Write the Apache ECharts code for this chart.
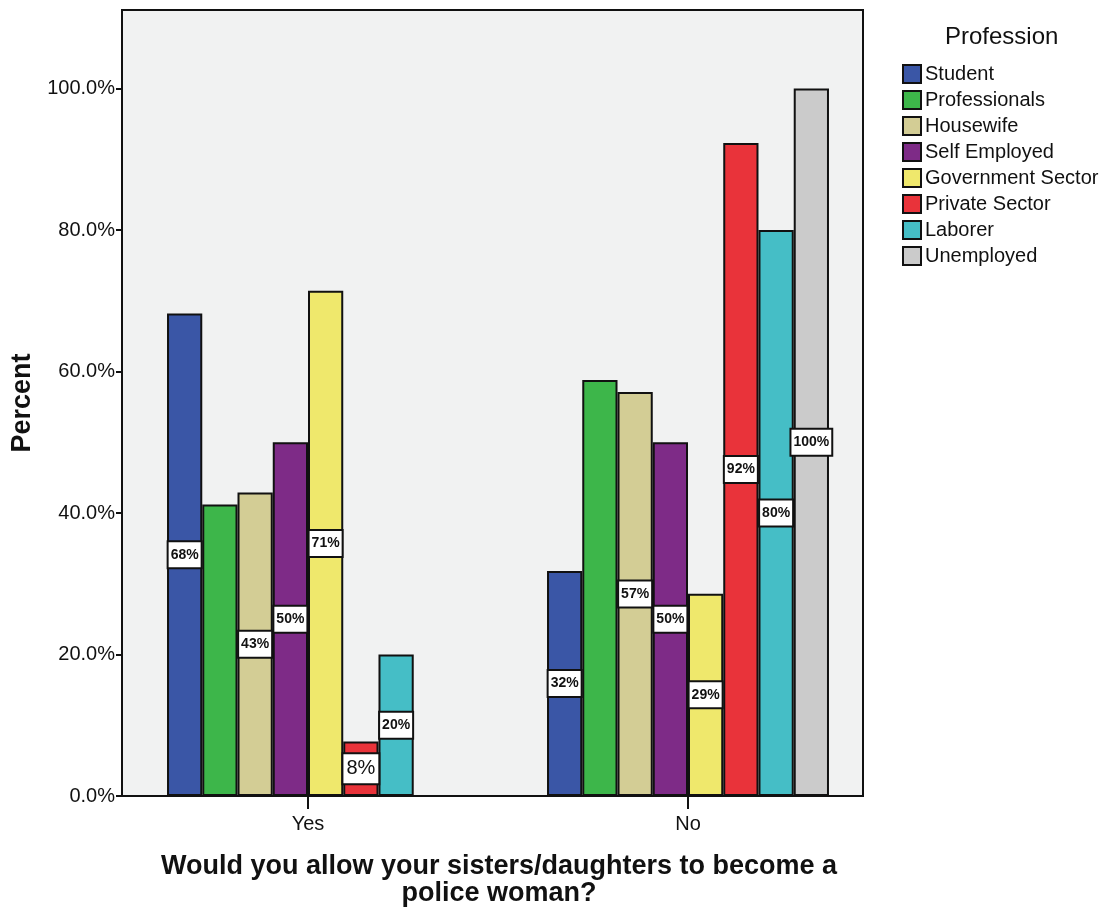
<!DOCTYPE html>
<html>
<head>
<meta charset="utf-8">
<script src="https://cdn.jsdelivr.net/npm/echarts@6/dist/echarts.min.js"></script>
<style>
html,body{margin:0;padding:0;background:#fff;}
#chart{width:1112px;height:910px;}
</style>
</head>
<body>
<div id="chart"></div>
<script>
// Data
var categories = ['Yes', 'No'];
var professions = ['Student', 'Professionals', 'Housewife', 'Self Employed', 'Government Sector', 'Private Sector', 'Laborer', 'Unemployed'];
var student = [68.2, 31.8];
var professionals = [41.2, 58.8];
var housewife = [42.9, 57.1];
var selfEmployed = [50.0, 50.0];
var government = [71.4, 28.6];
var privateSector = [7.7, 92.3];
var laborer = [20.0, 80.0];
var unemployed = [0, 100.0];
var yTicks = [0, 20, 40, 60, 80, 100];
var showLabels = [true, false, true, true, true, true, true, true];

var seriesValues = [student, professionals, housewife, selfEmployed, government, privateSector, laborer, unemployed];
var colors = ['#3a56a6', '#3db64a', '#d3cd95', '#7e2b87', '#efe86c', '#e9333a', '#45bec6', '#cbcbcb'];
var FONT = 'Liberation Sans, Arial, sans-serif';
var Y_MAX = 111.1;

var labelBase = {
  show: true,
  position: 'inside',
  color: '#111',
  fontFamily: FONT,
  fontSize: 14,
  fontWeight: 'bold',
  backgroundColor: '#fff',
  borderColor: '#111',
  borderWidth: 2,
  padding: [6, 2, 5, 2],
  formatter: function (p) { return Math.round(p.value) + '%'; }
};

var series = professions.map(function (name, i) {
  var data = seriesValues[i].map(function (v) {
    if (v === 0) return null;
    var item = { value: v };
    if (name === 'Private Sector' && v < 15) {
      item.label = { fontSize: 20, fontWeight: 'normal', padding: [5, 3, 4, 3] };
    }
    return item;
  });
  return {
    name: name,
    type: 'bar',
    xAxisIndex: 1,
    yAxisIndex: 1,
    data: data,
    barGap: '0%',
    barCategoryGap: '25.8%',
    itemStyle: { color: colors[i], borderColor: '#111', borderWidth: 2 },
    label: Object.assign({}, labelBase, { show: showLabels[i] }),
    emphasis: { disabled: true }
  };
});

var chart = echarts.init(document.getElementById('chart'), null, { renderer: 'canvas' });
chart.setOption({
  animation: false,
  backgroundColor: '#fff',
  textStyle: { fontFamily: FONT },
  title: {
    text: 'Profession',
    left: 940,
    top: 20,
    textStyle: { fontSize: 24, fontWeight: 'normal', color: '#111', fontFamily: FONT }
  },
  legend: {
    orient: 'vertical',
    left: 902,
    top: 64,
    padding: 0,
    itemWidth: 18,
    itemHeight: 18,
    itemGap: 6,
    icon: 'rect',
    selectedMode: false,
    textStyle: { fontSize: 20, color: '#111', padding: [0, 0, 0, -1], fontFamily: FONT },
    data: professions
  },
  grid: [
    {
      left: 122, right: 249, top: 10, bottom: 114,
      outerBoundsMode: 'none',
      show: true,
      backgroundColor: '#f1f2f2',
      borderColor: '#111',
      borderWidth: 2
    },
    {
      left: 118, width: 760, top: 10, bottom: 114,
      outerBoundsMode: 'none'
    }
  ],
  xAxis: [
    {
      gridIndex: 0,
      type: 'category',
      data: categories,
      axisLine: { lineStyle: { color: '#111', width: 2 } },
      axisTick: { show: false },
      axisLabel: { show: false }
    },
    {
      gridIndex: 1,
      type: 'category',
      data: categories,
      axisLine: { show: false },
      axisTick: { show: true, alignWithLabel: true, length: 13, lineStyle: { color: '#111', width: 2 } },
      axisLabel: { fontSize: 20, color: '#111', margin: 18 },
      name: 'Would you allow your sisters/daughters to become a\npolice woman?',
      nameLocation: 'middle',
      nameGap: 57,
      nameTextStyle: { fontSize: 27, fontWeight: 'bold', color: '#111', lineHeight: 27, padding: [0, 0, 0, 2] }
    }
  ],
  yAxis: [
    {
      gridIndex: 0,
      type: 'value',
      min: 0,
      max: Y_MAX,
      splitLine: { show: false },
      axisLine: { show: true, lineStyle: { color: '#111', width: 2 } },
      axisTick: { show: true, length: 6, customValues: yTicks, lineStyle: { color: '#111', width: 2 } },
      axisLabel: { fontSize: 20, color: '#111', margin: 7, customValues: yTicks, formatter: function (v) { return v.toFixed(1) + '%'; } },
      name: 'Percent',
      nameLocation: 'middle',
      nameRotate: 90,
      nameGap: 85,
      nameTextStyle: { fontSize: 27, fontWeight: 'bold', color: '#111' }
    },
    {
      gridIndex: 1,
      type: 'value',
      min: 0,
      max: Y_MAX,
      show: false
    }
  ],
  series: series
});
</script>
</body>
</html>
